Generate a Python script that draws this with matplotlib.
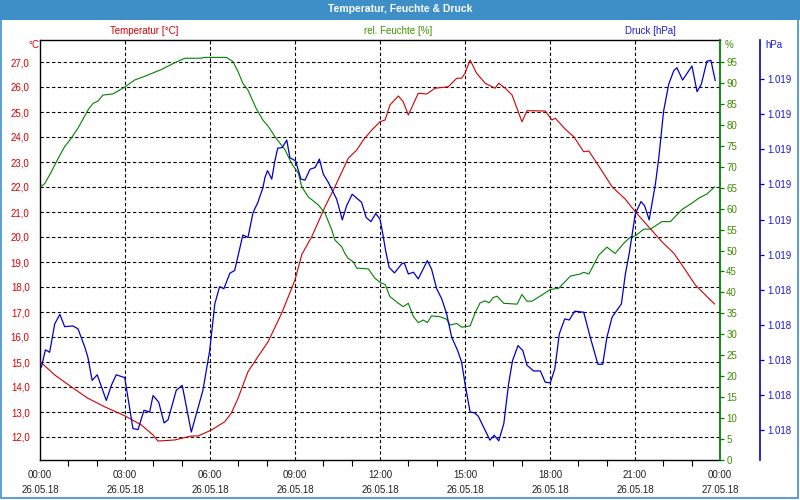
import matplotlib
matplotlib.use("Agg")
import matplotlib.pyplot as plt
from matplotlib.patches import Rectangle

plt.rcParams['font.family'] = ['Liberation Sans', 'DejaVu Sans']

# ---------------- data ----------------
title = "Temperatur, Feuchte & Druck"

temp_hours = [0.02, 0.52, 1.10, 1.69, 2.28, 2.99, 3.58, 3.99, 4.16, 4.75, 5.34, 5.58,
              6.05, 6.52, 6.75, 6.99, 7.34, 7.69, 8.05, 8.53, 9.00, 9.24, 9.59, 10.06,
              10.41, 10.88, 11.18, 11.41, 11.71, 12.00, 12.18, 12.35, 12.65, 12.82, 13.00,
              13.35, 13.65, 13.94, 14.41, 14.71, 14.88, 15.00, 15.18, 15.41, 15.71, 16.06,
              16.19, 16.42, 16.66, 17.01, 17.19, 17.36, 17.83, 18.07, 18.19, 18.54, 18.84,
              19.19, 19.37, 19.72, 20.19, 20.66, 21.01, 21.48, 21.95, 22.37, 22.66, 23.13,
              23.60, 23.81]
temp_values = [15.0, 14.48, 14.01, 13.55, 13.21, 12.85, 12.48, 12.08, 11.84, 11.88, 12.04, 12.04,
               12.28, 12.61, 12.95, 13.55, 14.61, 15.21, 15.81, 16.95, 18.28, 19.30, 20.01, 21.21,
               22.01, 23.15, 23.48, 23.88, 24.28, 24.61, 24.68, 25.28, 25.64, 25.41, 24.88,
               25.75, 25.72, 25.95, 26.01, 26.35, 26.35, 26.55, 27.08, 26.55, 26.15, 25.95,
               26.15, 25.95, 25.68, 24.61, 25.05, 25.05, 25.04, 24.68, 24.75, 24.31, 24.01,
               23.41, 23.44, 22.84, 22.01, 21.51, 21.01, 20.41, 19.81, 19.35, 18.88, 18.08,
               17.55, 17.32]

hum_hours = [0.02, 0.17, 0.40, 0.64, 0.87, 1.10, 1.34, 1.69, 1.87, 2.05, 2.22, 2.58, 2.99,
             3.34, 3.70, 4.28, 4.75, 5.11, 5.69, 5.81, 6.58, 6.81, 6.99, 7.16, 7.34, 7.63,
             7.87, 8.05, 8.29, 8.65, 8.88, 9.12, 9.24, 9.47, 9.82, 10.06, 10.30, 10.41,
             10.65, 10.76, 10.88, 11.06, 11.18, 11.59, 11.82, 12.00, 12.18, 12.35, 12.65,
             12.82, 13.00, 13.18, 13.35, 13.53, 13.67, 13.82, 14.12, 14.35, 14.47, 14.71,
             14.88, 15.18, 15.35, 15.53, 15.71, 15.85, 16.00, 16.13, 16.37, 16.84, 17.01,
             17.19, 17.36, 17.72, 18.01, 18.31, 18.72, 19.07, 19.19, 19.37, 19.48, 19.72,
             20.01, 20.30, 20.60, 20.83, 21.01, 21.31, 21.54, 21.95, 22.25, 22.66, 23.01,
             23.25, 23.54, 23.81]
hum_values = [65.2, 66.0, 68.8, 72.0, 74.8, 76.8, 79.2, 83.5, 85.1, 85.7, 87.1, 87.4, 89.0,
              90.7, 91.6, 93.2, 94.8, 95.9, 95.9, 96.1, 96.1, 95.1, 92.7, 89.9, 88.3, 83.9,
              81.1, 79.7, 77.2, 74.0, 70.8, 68.4, 65.2, 62.8, 60.9, 58.9, 54.9, 52.5,
              50.9, 49.3, 48.1, 47.3, 45.8, 45.6, 43.4, 42.4, 41.9, 39.0, 37.4,
              36.6, 37.4, 34.2, 32.8, 33.4, 32.8, 34.4, 34.2, 33.6, 32.2, 32.6,
              31.7, 32.0, 35.0, 37.5, 38.0, 37.5, 38.8, 39.1, 37.4, 37.2, 39.5,
              37.9, 37.9, 39.4, 40.7, 41.0, 43.9, 44.4, 44.8, 44.4, 45.8, 48.9,
              50.8, 49.3, 51.7, 53.2, 53.5, 55.1, 55.1, 56.9, 56.9, 59.8, 61.3,
              62.5, 63.5, 65.2]

press_hours = [0.05, 0.19, 0.34, 0.52, 0.70, 0.87, 1.16, 1.34, 1.58, 1.69, 1.84, 2.02, 2.34,
               2.52, 2.69, 2.99, 3.28, 3.46, 3.67, 3.87, 3.99, 4.19, 4.38, 4.52, 4.81, 5.02,
               5.34, 5.75, 5.99, 6.17, 6.34, 6.49, 6.70, 6.87, 7.16, 7.34, 7.52, 7.69, 7.87,
               7.94, 8.03, 8.18, 8.29, 8.39, 8.55, 8.71, 8.82, 9.02, 9.21, 9.35, 9.53, 9.71,
               9.86, 10.00, 10.18, 10.47, 10.67, 10.82, 11.02, 11.35, 11.51, 11.68, 11.85,
               12.00, 12.08, 12.20, 12.32, 12.51, 12.77, 12.86, 13.00, 13.18, 13.35, 13.67,
               13.82, 14.00, 14.18, 14.35, 14.53, 14.74, 14.88, 15.00, 15.18, 15.33, 15.47,
               15.71, 15.88, 16.03, 16.19, 16.37, 16.54, 16.68, 16.87, 17.04, 17.19, 17.42,
               17.66, 17.83, 18.01, 18.17, 18.33, 18.52, 18.68, 18.87, 19.19, 19.42, 19.69,
               19.86, 20.01, 20.19, 20.52, 20.66, 20.80, 21.01, 21.21, 21.34, 21.50, 21.72,
               21.84, 22.01, 22.19, 22.37, 22.48, 22.68, 23.01, 23.19, 23.34, 23.54, 23.68,
               23.83]
press_values = [1018.180, 1018.229, 1018.222, 1018.303, 1018.330, 1018.295, 1018.297, 1018.289,
                1018.237, 1018.208, 1018.142, 1018.158, 1018.085, 1018.128, 1018.158, 1018.150,
                1018.005, 1018.002, 1018.057, 1018.052, 1018.099, 1018.080, 1018.021, 1018.030,
                1018.114, 1018.128, 1017.995, 1018.114, 1018.227, 1018.360, 1018.409, 1018.403,
                1018.447, 1018.455, 1018.556, 1018.549, 1018.620, 1018.649, 1018.691,
                1018.720, 1018.739, 1018.715, 1018.767, 1018.803, 1018.805, 1018.826, 1018.776,
                1018.767, 1018.715, 1018.712, 1018.743, 1018.748, 1018.772, 1018.729, 1018.705,
                1018.658, 1018.599, 1018.639, 1018.672, 1018.649, 1018.606, 1018.594, 1018.617,
                1018.601, 1018.568, 1018.511, 1018.464, 1018.448, 1018.474, 1018.476, 1018.445,
                1018.450, 1018.431, 1018.483, 1018.459, 1018.403, 1018.374, 1018.332, 1018.265,
                1018.227, 1018.194, 1018.133, 1018.052, 1018.050, 1018.040, 1018.000, 1017.972,
                1017.986, 1017.970, 1018.019, 1018.133, 1018.199, 1018.241, 1018.227, 1018.185,
                1018.169, 1018.169, 1018.137, 1018.135, 1018.175, 1018.275, 1018.317, 1018.314,
                1018.339, 1018.336, 1018.265, 1018.188, 1018.188, 1018.265, 1018.322, 1018.360,
                1018.445, 1018.505, 1018.616, 1018.651, 1018.639, 1018.599, 1018.701, 1018.776,
                1018.909, 1018.985, 1019.024, 1019.032, 1018.997, 1019.037, 1018.964, 1018.985,
                1019.051, 1019.053, 1018.996]

x_tick_hours = [0, 3, 6, 9, 12, 15, 18, 21, 24]
x_time_labels = ["00:00", "03:00", "06:00", "09:00", "12:00", "15:00", "18:00", "21:00", "00:00"]
x_date_labels = ["26.05.18"] * 8 + ["27.05.18"]

temp_ticks = list(range(12, 28))
hum_ticks = list(range(0, 100, 5))
press_ticks = [1018.0, 1018.1, 1018.2, 1018.3, 1018.4, 1018.5, 1018.6, 1018.7, 1018.8, 1018.9, 1019.0]
press_tick_labels = ["1.018"] * 5 + ["1.019"] * 6

# ---------------- style ----------------
RED = '#cc0000'
RED_TXT = '#d40000'
GREEN = '#008000'
GREEN_TXT = '#3f8f00'
BLUE = '#0000cc'
BLUE_TXT = '#1a1ad0'
BAR = '#3e8fc7'
FS = 7

W, H = 800, 500
fig = plt.figure(figsize=(8, 5), dpi=100)
fig.patch.set_facecolor('white')

def fx(px):
    return px / W

def fy(py):
    return 1 - py / H

# title bar and border
fig.patches.append(Rectangle((0, fy(20)), 1, 20 / H, transform=fig.transFigure,
                             facecolor=BAR, edgecolor='none', zorder=0))
fig.patches.append(Rectangle((fx(0.8), fy(497.5)), fx(797.5), (497.5 - 0.8) / H,
                             transform=fig.transFigure, facecolor='none',
                             edgecolor=BAR, lw=1.2, zorder=0))
fig.text(0.5, fy(9.5), title, color='white', fontsize=7.5, fontweight='bold',
         ha='center', va='center')

ax = fig.add_axes([fx(40), fy(460), fx(680), 420 / H])
ax.set_facecolor('white')
ax.set_xlim(0, 24)
ax.set_ylim(12 - 23 / 25, 27 + 22 / 25)

axh = ax.twinx()
axh.set_ylim(0, 95 + 22 / 4.19)

axp = ax.twinx()
axp.set_ylim(1018.0 - 29.7 / 351.3, 1019.0 + 39 / 351.3)
axp.spines['right'].set_position(('outward', 40 * 72 / 100))

# grid
dash = (0, (3, 2.2))
for t in temp_ticks:
    ax.axhline(t, color='black', lw=0.8, ls=dash, zorder=1)
for h in x_tick_hours[1:-1]:
    ax.axvline(h, color='black', lw=0.8, ls=dash, zorder=1)

# lines
ax.plot(temp_hours, temp_values, color=RED, lw=0.8, zorder=3)
axh.plot(hum_hours, hum_values, color=GREEN, lw=0.8, zorder=3)
axp.plot(press_hours, press_values, color=BLUE, lw=0.9, zorder=3)

# temperature axis (left)
ax.set_yticks(temp_ticks)
ax.set_yticklabels([f"{v:.1f}".replace('.', ',') for v in temp_ticks])
ax.tick_params(axis='y', left=False, right=False, labelsize=FS, labelcolor=RED_TXT, pad=4)

# x axis
ax.set_xticks(x_tick_hours)
ax.set_xticklabels([f"{t}\n{d}" for t, d in zip(x_time_labels, x_date_labels)])
ax.set_xticks(list(range(0, 25)), minor=True)
ax.tick_params(axis='x', which='major', length=0, labelsize=FS, labelcolor='#222222', pad=7)
ax.tick_params(axis='x', which='minor', length=4, width=0.8, color='black', direction='out')
for lbl in ax.get_xticklabels():
    lbl.set_linespacing(1.6)

for s in ['left', 'top', 'bottom']:
    ax.spines[s].set_color('black')
    ax.spines[s].set_linewidth(1.0)
ax.spines['right'].set_visible(False)

# humidity axis
for s in ['left', 'top', 'bottom']:
    axh.spines[s].set_visible(False)
axh.spines['right'].set_color(GREEN)
axh.spines['right'].set_linewidth(1.3)
axh.set_yticks(hum_ticks)
axh.set_yticklabels([str(v) for v in hum_ticks])
axh.tick_params(axis='y', right=True, length=3, width=0.9, color=GREEN,
                labelsize=FS, labelcolor=GREEN_TXT, pad=1.5)

# pressure axis
for s in ['left', 'top', 'bottom']:
    axp.spines[s].set_visible(False)
axp.spines['right'].set_color(BLUE)
axp.spines['right'].set_linewidth(1.2)
axp.set_yticks(press_ticks)
axp.set_yticklabels(press_tick_labels)
axp.tick_params(axis='y', right=True, length=3, width=0.9, color=BLUE,
                labelsize=FS, labelcolor=BLUE_TXT, pad=2)

# headers and units
fig.text(fx(144), fy(30.5), "Temperatur [°C]", color=RED_TXT, fontsize=FS, ha='center', va='center')
fig.text(fx(398), fy(30.5), "rel. Feuchte [%]", color=GREEN_TXT, fontsize=FS, ha='center', va='center')
fig.text(fx(650), fy(30.5), "Druck [hPa]", color=BLUE_TXT, fontsize=FS, ha='center', va='center')
fig.text(fx(39), fy(44.5), "°C", color=RED_TXT, fontsize=FS, ha='right', va='center')
fig.text(fx(724.5), fy(44.5), "%", color=GREEN_TXT, fontsize=FS, ha='left', va='center')
fig.text(fx(765), fy(44.5), "hPa", color=BLUE_TXT, fontsize=FS, ha='left', va='center')

fig.savefig("out.png", dpi=100)
